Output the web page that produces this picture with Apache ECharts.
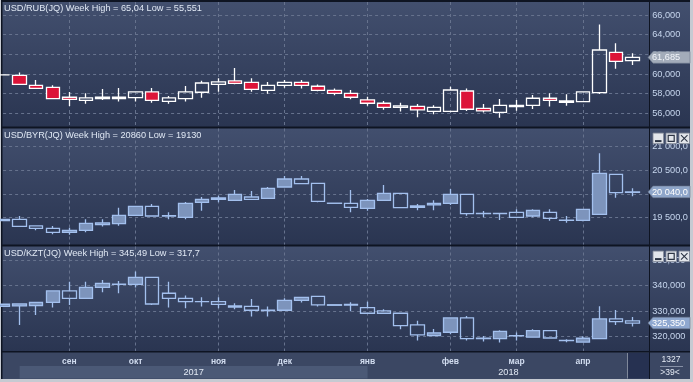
<!DOCTYPE html>
<html>
<head>
<meta charset="utf-8">
<script src="https://cdn.jsdelivr.net/npm/echarts@6.0.0/dist/echarts.min.js"></script>
<style>
html,body{margin:0;padding:0;background:#c6cad2;overflow:hidden;}
#c{width:693px;height:382px;}
</style>
</head>
<body>
<div id="c"></div>
<script>
// ---------- DATA ----------
const weeks = ['07.08.2017','14.08.2017','21.08.2017','28.08.2017','04.09.2017','11.09.2017','18.09.2017','25.09.2017',
  '02.10.2017','09.10.2017','16.10.2017','23.10.2017','30.10.2017','06.11.2017','13.11.2017','20.11.2017','27.11.2017',
  '04.12.2017','11.12.2017','18.12.2017','25.12.2017','01.01.2018','08.01.2018','15.01.2018','22.01.2018','29.01.2018',
  '05.02.2018','12.02.2018','19.02.2018','26.02.2018','05.03.2018','12.03.2018','19.03.2018','26.03.2018',
  '02.04.2018','09.04.2018','16.04.2018','23.04.2018','30.04.2018'];
const monthTicks = {4:'сен', 8:'окт', 13:'ноя', 17:'дек', 22:'янв', 27:'фев', 31:'мар', 35:'апр'};
const yearLabels = ['2017', '2018'];
const yearStartIdx = [1, 22];

// [open, close, low, high]
const rub = [
  [59.90,59.90,59.90,59.90],[59.86,58.95,58.95,60.14],[58.85,58.54,58.50,59.39],[58.64,57.49,57.42,58.85],
  [57.63,57.42,56.75,58.17],[57.32,57.56,56.98,58.03],[57.49,57.63,57.36,58.47],[57.49,57.63,57.19,58.58],
  [57.59,58.17,57.19,58.17],[58.17,57.32,57.08,58.58],[57.22,57.56,56.98,57.76],[57.49,58.17,57.19,58.78],
  [58.14,59.08,57.59,59.32],[58.95,59.19,58.20,59.56],[59.29,59.05,58.95,60.61],[59.15,58.44,58.20,59.56],
  [58.34,58.85,58.00,59.19],[58.85,59.15,58.61,59.39],[59.15,58.85,58.51,59.39],[58.75,58.34,58.24,58.92],
  [58.34,58.03,57.83,58.51],[58.03,57.63,57.42,58.37],[57.36,57.02,56.78,57.69],[57.02,56.61,56.37,57.25],
  [56.61,56.75,56.17,57.08],[56.71,56.34,55.59,56.95],[56.20,56.61,55.90,56.81],[56.20,58.37,56.10,58.71],
  [58.27,56.41,56.24,58.51],[56.51,56.24,56.07,56.95],[56.10,56.81,55.551,57.46],[56.68,56.81,56.27,57.36],
  [56.81,57.53,56.44,57.86],[57.53,57.32,56.68,58.03],[57.12,57.25,56.78,57.93],[57.19,58.17,57.19,58.17],
  [58.10,62.44,57.97,65.04],[62.20,61.29,60.54,63.12],[61.35,61.685,60.92,62.10]
];
const byr = [
  [19429,19457,19429,19457],[19457,19309,19309,19528],[19316,19266,19224,19316],[19266,19181,19140,19316],
  [19181,19224,19130,19280],[19224,19372,19181,19457],[19344,19380,19302,19457],[19365,19542,19323,19705],
  [19542,19733,19542,19733],[19733,19528,19528,19783],[19535,19528,19457,19606],[19500,19797,19457,19825],
  [19818,19882,19641,19931],[19882,19910,19818,19960],[19861,19988,19861,20080],[19931,19882,19882,20059],
  [19903,20115,19903,20144],[20144,20314,20144,20377],[20314,20214,20200,20377],[20222,19839,19818,20222],
  [19800,19797,19797,19800],[19797,19712,19606,20080],[19691,19861,19641,19889],[19861,20009,19861,20186],
  [20009,19705,19691,20009],[19712,19740,19648,19783],[19762,19797,19648,19861],[19797,19988,19762,20101],
  [19988,19577,19535,19988],[19585,19580,19500,19634],[19585,19580,19443,19585],[19606,19500,19500,19669],
  [19528,19648,19500,19669],[19606,19478,19429,19669],[19438,19434,19386,19528],[19436,19670,19415,19670],
  [19563,20434,19549,20860],[20413,20023,19917,20413],[20030,20040,19945,20115]
];
const kzt = [
  [331.9,332.7,331.9,332.7],[332.03,332.81,324.6,333.07],[332.16,333.46,328.5,333.46],[333.46,337.9,331.4,337.9],
  [337.9,335.03,332.42,341.54],[335.03,339.32,335.03,341.54],[339.32,340.89,337.37,342.19],[340.5,340.6,337.0,341.8],
  [340.5,343.23,339.2,345.49],[343.23,332.8,332.4,343.23],[337.0,335.03,331.4,341.54],[335.03,333.7,331.1,336.07],
  [333.75,333.7,331.8,335.4],[333.72,332.68,331.1,335.4],[331.6,332.0,330.7,333.1],[331.9,330.34,327.9,334.77],
  [330.2,330.4,327.9,331.77],[330.34,334.24,330.34,335.03],[334.24,335.42,333.33,335.42],[335.8,332.42,331.77,335.8],
  [332.3,332.5,332.3,332.5],[332.4,332.6,330.0,333.5],[331.4,329.17,329.17,333.7],[330.1,329.17,329.0,330.7],
  [329.17,324.35,322.9,329.17],[324.6,320.7,318.5,326.2],[320.44,321.5,320.44,323.0],[321.75,327.35,321.0,327.35],
  [327.35,319.27,318.5,328.1],[319.4,319.3,318.1,320.3],[319.27,322.1,317.7,322.5],[320.3,320.4,318.5,321.6],
  [319.8,322.4,319.8,322.9],[322.4,319.5,319.4,322.4],[318.5,318.6,317.8,319.0],[317.9,319.4,317.9,320.2],
  [319.27,326.95,319.27,331.9],[326.95,325.9,324.6,330.47],[326.2,325.35,324.0,327.7]
];
const rubTicks = [56, 58, 60, 62, 64, 66];
const byrTicks = [19500, 20000, 20500, 21000];
const kztTicks = [320, 330, 340, 350];
const titles = [
  'USD/RUB(JQ) Week High = 65,04 Low = 55,551',
  'USD/BYR(JQ) Week High = 20860 Low = 19130',
  'USD/KZT(JQ) Week High = 345,49 Low = 317,7'
];
const barCountText = '1327';
const visibleBarsText = '>39<';

// ---------- FORMATTERS ----------
const fmt3 = v => v.toFixed(3).replace('.', ',');
const fmt1sp = v => { const s = v.toFixed(1).split('.'); return s[0].replace(/\B(?=(\d{3})+(?!\d))/g, ' ') + ',' + s[1]; };

// ---------- LAYOUT ----------
const FONT = '"Liberation Sans", Arial, sans-serif';
const GL = 3.1, GR = 649.2;
const panels = [
  {top: 2,     bottom: 126.5, min: 54.657, max: 67.32,   data: rub, ticks: rubTicks, fmt: fmt3,   buttons: false,
   boxFill: '#a3acba', boxText: '#f2f5fa'},
  {top: 128.5, bottom: 244.5, min: 18922,  max: 21386.7, data: byr, ticks: byrTicks, fmt: fmt1sp, buttons: true,
   boxFill: '#8fa6ca', boxText: '#ffffff'},
  {top: 246.5, bottom: 351,   min: 314.41, max: 355.28,  data: kzt, ticks: kztTicks, fmt: fmt3,   buttons: true,
   boxFill: '#8fa8d0', boxText: '#ffffff'}
];
const cats = weeks.concat(['']);
const gridLine = {show: true, interval: (i) => monthTicks[i] !== undefined,
  lineStyle: {color: '#66728d', type: [3, 3], width: 1}};

const chart = echarts.init(document.getElementById('c'), null, {renderer: 'canvas', width: 693, height: 382});

const bgGrad = {type: 'linear', x: 0, y: 0, x2: 0, y2: 1,
  colorStops: [{offset: 0, color: '#424f6e'}, {offset: 1, color: '#2a3551'}]};

const baseGraphics = [
  {type: 'rect', z: -3, shape: {x: 1, y: 0, width: 689, height: 379}, style: {fill: '#0e1422'}},
];
panels.forEach(p => {
  baseGraphics.push({type: 'rect', z: -2, shape: {x: 2.5, y: p.top, width: 687.5, height: p.bottom - p.top},
    style: {fill: bgGrad}});
});
baseGraphics.push({type: 'rect', z: -2, shape: {x: 2.5, y: 352.5, width: 687.5, height: 26.5}, style: {fill: '#3b4763'}});

const option = {
  animation: false,
  backgroundColor: '#c6cad2',
  grid: panels.map(p => ({left: GL, width: GR - GL, top: p.top, height: p.bottom - p.top, containLabel: false})),
  xAxis: panels.map((p, k) => ({
    type: 'category', gridIndex: k, data: cats, boundaryGap: false,
    axisLine: {show: false}, axisTick: {show: false},
    axisLabel: k === 2 ? {show: true, interval: (i) => monthTicks[i] !== undefined,
      formatter: (v, i) => monthTicks[i] || '', color: '#d2ddf0', fontSize: 8.5, fontWeight: 'bold',
      fontFamily: FONT, margin: 6} : {show: false},
    splitLine: gridLine
  })),
  yAxis: panels.map((p, k) => ({
    type: 'value', gridIndex: k, position: 'right', min: p.min, max: p.max,
    axisLine: {show: false},
    axisTick: {show: false, customValues: p.ticks},
    axisLabel: {show: true, customValues: p.ticks, formatter: p.fmt, color: '#c7d6ee', fontSize: 9.2,
      fontFamily: FONT, margin: 3},
    splitLine: {show: true, lineStyle: {color: '#66728d', type: [3, 3], width: 1}}
  })),
  series: panels.map((p, k) => ({
    type: 'candlestick', xAxisIndex: k, yAxisIndex: k, data: p.data, barWidth: 14, silent: true,
    itemStyle: k === 0
      ? {color: 'transparent', color0: '#dc1438', borderColor: '#ffffff', borderColor0: '#ffffff',
         borderColorDoji: '#ffffff', borderWidth: 1.3}
      : {color: '#7d94bc', color0: 'transparent', borderColor: '#a3c0ee', borderColor0: '#a3c0ee',
         borderColorDoji: '#a3c0ee', borderWidth: 1.3}
  })),
  graphic: baseGraphics
};
chart.setOption(option);

// ---------- overlays positioned via the chart's own scales ----------
const g = baseGraphics.slice();
// vertical separator between plot and price scale
g.push({type: 'rect', z: 20, shape: {x: 649, y: 0, width: 1, height: 379}, style: {fill: '#0e1422'}});

panels.forEach((p, k) => {
  // title
  g.push({type: 'text', z: 30, style: {text: titles[k], x: 4, y: p.top + 6.5, fill: '#e0e8f4',
    font: '9.2px ' + FONT, align: 'left', verticalAlign: 'middle'}});
  // last price label
  const last = p.data[p.data.length - 1][1];
  const y = chart.convertToPixel({yAxisIndex: k}, last);
  g.push({type: 'polygon', z: 30, shape: {points: [[648, y], [653, y - 5.8], [690, y - 5.8], [690, y + 5.8], [653, y + 5.8]]},
    style: {fill: p.boxFill, stroke: '#6f7a8e', lineWidth: 0.6}});
  g.push({type: 'text', z: 31, style: {text: p.fmt(last), x: 652, y: y + 0.5, fill: p.boxText,
    font: '9.2px ' + FONT, align: 'left', verticalAlign: 'middle'}});
  // window buttons
  if (p.buttons) {
    const by = p.top + 4.6;
    [653, 666, 679].forEach((bx, j) => {
      g.push({type: 'rect', z: 40, shape: {x: bx, y: by, width: 10.5, height: 10.5},
        style: {fill: '#e3e6eb', stroke: '#858c99', lineWidth: 0.8}});
      if (j === 0) g.push({type: 'rect', z: 41, shape: {x: bx + 2, y: by + 7, width: 6.5, height: 2}, style: {fill: '#2c3444'}});
      if (j === 1) g.push({type: 'rect', z: 41, shape: {x: bx + 2.2, y: by + 2.2, width: 6, height: 6},
        style: {fill: 'none', stroke: '#2c3444', lineWidth: 1.2}});
      if (j === 2) {
        g.push({type: 'line', z: 41, shape: {x1: bx + 2, y1: by + 2, x2: bx + 8.5, y2: by + 8.5}, style: {stroke: '#2c3444', lineWidth: 1.1}});
        g.push({type: 'line', z: 41, shape: {x1: bx + 8.5, y1: by + 2, x2: bx + 2, y2: by + 8.5}, style: {stroke: '#2c3444', lineWidth: 1.1}});
      }
    });
  }
});

// year band
const xs = yearStartIdx.map(i => chart.convertToPixel({xAxisIndex: 2}, i));
g.push({type: 'rect', z: -1, shape: {x: xs[0], y: 366, width: xs[1] - xs[0], height: 12.5}, style: {fill: '#4b5976'}});
const yearEnds = [xs[1], GR];
yearLabels.forEach((t, j) => {
  g.push({type: 'text', z: 30, style: {text: t, x: (xs[j] + yearEnds[j]) / 2, y: 372, fill: '#e2e9f4',
    font: '9.2px ' + FONT, align: 'center', verticalAlign: 'middle'}});
});
// scroller block
g.push({type: 'rect', z: 5, shape: {x: 628, y: 353, width: 21, height: 25.5}, style: {fill: '#263151'}});
g.push({type: 'rect', z: 6, shape: {x: 627, y: 353, width: 1, height: 25.5}, style: {fill: '#7f889a'}});
// bar count cell
g.push({type: 'text', z: 30, style: {text: barCountText, x: 671, y: 360, fill: '#e4eaf4',
  font: '8.5px ' + FONT, align: 'center', verticalAlign: 'middle'}});
g.push({type: 'rect', z: 30, shape: {x: 660, y: 366, width: 23, height: 0.8}, style: {fill: '#9aa4b8'}});
g.push({type: 'text', z: 30, style: {text: visibleBarsText, x: 670, y: 372.5, fill: '#e4eaf4',
  font: '8.5px ' + FONT, align: 'center', verticalAlign: 'middle'}});

chart.setOption({graphic: g});
</script>
</body>
</html>
